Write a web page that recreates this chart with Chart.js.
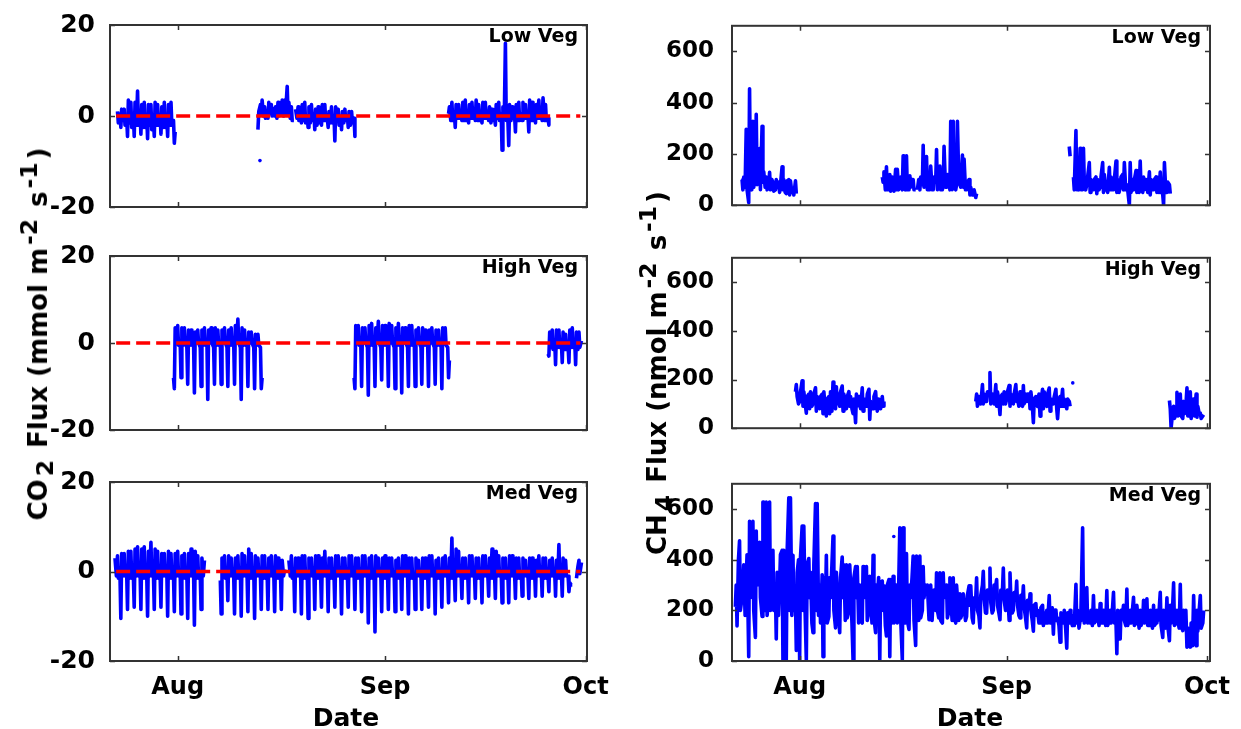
<!DOCTYPE html>
<html>
<head>
<meta charset="utf-8">
<script src="https://cdn.jsdelivr.net/npm/chart.js@4.4.1/dist/chart.umd.min.js"></script>
<style>
  body { margin: 0; background: #fff; width: 1241px; height: 729px; position: relative; overflow: hidden;
         font-family: "DejaVu Sans", sans-serif; font-weight: bold; color: #000; }
  canvas { position: absolute; }
  .title { position: absolute; white-space: nowrap; font-size: 25px; line-height: 1; }
  .ytitle { font-size: 26px; transform: translate(-50%, -50%) rotate(-90deg); }
  .xtitle { transform: translate(-50%, -50%); }
  .title sub, .title sup { font-size: 0.9em; line-height: 0; padding: 0 3px; }
</style>
</head>
<body>
<div class="title ytitle" style="left:38px; top:334px">CO<sub>2</sub> Flux (mmol m<sup>-2</sup> s<sup>-1</sup>)</div>
<div class="title ytitle" style="left:657px; top:373px">CH<sub>4</sub> Flux (nmol m<sup>-2</sup> s<sup>-1</sup>)</div>
<div class="title xtitle" style="left:346px; top:717px">Date</div>
<div class="title xtitle" style="left:970px; top:717px">Date</div>
<script>
// day 0 = 22 Jul; six readings per day at 00, 03, 09, 12, 15 and 20 h
const SLOT = [0, 0.125, 0.375, 0.5, 0.625, 0.833];
const monthDays = [10, 41, 71];
const monthNames = ['Aug', 'Sep', 'Oct'];
const co2Ticks = [-20, 0, 20];
const ch4Ticks = [0, 200, 400, 600];

// CO2 flux, low vegetation (mmol m-2 s-1)
const co2LowStart = [1, 22, 50];
const co2Low = [
  [1.0, -1.5, 0.5, -2.5, 1.5, -1.0,  1.5, -2.0, -0.5, -4.5, 3.5, -1.5,  3.0, -2.5, 0.5, -4.5, 3.0, -2.0,
   5.5, -2.0, 1.0, -4.0, 2.5, -2.5,  3.0, -2.5, 0.0, -5.0, 2.5, -2.0,  2.5, -3.0, -0.5, -4.5, 3.0, -2.0,
   2.5, -2.0, 0.0, -4.0, 2.0, -2.5,  3.0, -2.5, -0.5, -4.5, 2.5, -2.0,  3.0, -2.0, -1.0, -6.0, -3.5],
  [-3.0, 1.0, 2.5, 0.5, 3.5, 0.0,  2.0, -0.5, 1.0, -0.5, 3.0, 0.5,  2.5, 0.0, 1.5, 0.0, 2.0, -0.5,
   3.0, 0.0, 2.0, 0.5, 3.5, 0.0,  3.5, 0.5, 6.5, 0.5, 3.0, -0.5,  2.0, -1.0, -1.0, null, 1.5, -0.5,
   2.0, -1.0, 0.5, -1.5, 2.5, -1.0,  3.0, -1.5, 0.0, -2.5, 2.0, -1.5,  2.5, -1.0, 0.5, -3.0, 1.5, -2.0,
   2.0, -1.5, 0.0, -2.0, 2.5, -1.0,  2.5, -1.0, -0.5, -2.5, 1.0, -1.5,  2.0, -1.5, 0.0, -5.5, 2.0, -1.0,
   1.5, -2.0, -0.5, -3.0, 1.0, -1.5,  1.5, -1.0, 0.0, -2.5, 1.0, -2.0,  1.0, -1.5, -0.5, -4.5],
  [null, null, null, 0.5, 2.0, -1.0,  3.0, -1.0, 0.5, -2.5, 2.5, -0.5,  2.5, -0.5, 0.0, -1.0, 3.0, -1.0,
   3.5, -1.0, 0.0, -1.5, 2.5, -0.5,  3.0, -0.5, 0.5, -1.0, 3.5, -1.0,  2.5, -1.0, -0.5, -1.5, 3.0, -0.5,
   3.0, -0.5, 0.5, -1.0, 2.0, -1.5,  1.5, -1.0, 0.0, -2.0, 2.5, -0.5,  3.0, -1.0, 0.5, -7.5, 2.0, -0.5,
   16.0, -1.0, -1.0, -6.5, 2.5, -1.0,  2.0, -0.5, 0.0, -3.5, 2.5, -1.0,  3.0, -1.0, 0.5, -1.0, 3.0, -0.5,
   2.5, -0.5, 0.0, -3.5, 3.5, -1.0,  3.0, -1.0, 0.5, -1.5, 2.5, -0.5,  3.5, -0.5, 0.0, -1.0, 4.0, -1.0,
   2.5, -1.0, -0.5, -2.0]
];
const co2LowDots = [[22.3, -9.8]];

// CO2 flux, high vegetation
const co2HighStart = [9, 36, 65];
const co2High = [
  [null, null, -8.0, -10.5, 3.5, 0.0,  4.0, -0.5, 0.0, -8.0, 3.5, -0.5,  3.5, 0.0, -1.0, -9.5, 3.0, -0.5,
   3.0, -0.5, 0.0, -11.5, 2.5, 0.0,  3.0, 0.0, -1.0, -10.0, 3.0, -0.5,  3.5, -0.5, 0.0, -13.0, 3.0, 0.0,
   3.5, 0.0, -1.0, -9.5, 3.5, -0.5,  3.0, -0.5, 0.0, -9.5, 3.0, 0.0,  3.5, 0.0, -1.0, -10.0, 3.0, -0.5,
   3.5, -0.5, 0.0, -9.5, 4.0, 0.0,  5.5, 0.0, -1.0, -13.0, 3.5, -0.5,  3.0, -0.5, 0.0, -10.0, 2.5, 0.0,
   2.5, 0.0, -1.0, -10.5, 2.0, -0.5,  2.0, -0.5, -1.0, -10.5, -8.0],
  [null, null, -8.0, -10.5, 4.0, 0.0,  4.0, -0.5, 0.0, -10.0, 3.5, 0.0,  3.5, 0.0, -1.0, -12.0, 4.0, -0.5,
   4.5, -0.5, 0.0, -10.0, 3.5, 0.0,  5.0, 0.0, -1.0, -8.5, 4.0, -0.5,  4.0, -0.5, 0.0, -10.0, 4.5, 0.0,
   4.0, 0.0, -1.0, -10.5, 3.5, -0.5,  4.5, -0.5, 0.0, -11.5, 3.5, 0.0,  3.5, 0.0, -1.0, -10.0, 4.0, -0.5,
   4.0, -0.5, 0.0, -10.0, 3.0, 0.0,  3.5, 0.0, -1.0, -9.5, 3.5, -0.5,  3.0, -0.5, 0.0, -10.0, 3.0, 0.0,
   3.5, 0.0, -1.0, -9.5, 3.0, -0.5,  3.0, -0.5, 0.0, -10.5, 3.5, 0.0,  3.5, -0.5, -1.0, -8.0, -4.0],
  [null, null, -2.5, -3.0, 2.5, -1.0,  3.0, -1.5, 0.5, -5.0, 3.0, -1.0,  3.0, -1.0, 0.0, -4.5, 2.5, -1.5,
   2.0, -1.5, -1.0, -4.5, 3.0, -1.0,  3.5, -1.0, 0.0, -5.0, 2.5, -1.5,  2.5, -1.0, 0.5]
];

// CO2 flux, medium vegetation
const co2MedStart = [0, 16, 26];
const co2Med = [
  [null, null, null, null, 3.0, -1.0,  3.5, -1.5, -1.0, -10.5, 4.0, -1.0,  4.0, -1.0, -0.5, -8.5, 4.5, -1.5,
   4.5, -1.5, -1.0, -8.0, 5.0, -1.0,  5.5, -1.0, 0.0, -8.5, 5.0, -1.5,  5.5, -1.5, -1.0, -10.0, 4.5, -1.0,
   6.5, -1.0, -0.5, -8.5, 5.0, -1.5,  4.5, -1.5, -1.0, -8.0, 4.0, -1.0,  4.0, -1.0, 0.0, -10.0, 4.5, -1.5,
   4.0, -1.5, -1.0, -9.0, 4.0, -1.0,  4.5, -1.0, -0.5, -9.5, 3.5, -1.5,  4.0, -1.5, -1.0, -10.5, 4.0, -1.0,
   5.0, -1.0, 0.0, -12.0, 4.5, -1.5,  3.5, -1.5, -1.0, -8.5, 3.0, -1.0,  2.5],
  [null, null, -2.0, -9.5, 3.0, -1.0,  3.5, -1.5, -0.5, -6.5, 3.5, -1.0,  3.0, -1.0, -1.0, -9.5, 3.0, -1.5,
   3.5, -1.5, 0.0, -10.0, 4.0, -1.0,  3.5, -1.0, -1.0, -9.0, 5.0, -1.5,  4.0, -1.5, 0.0, -10.5, 3.5, -1.0,
   3.0, -1.0, -1.0, -8.5, 3.5, -1.5,  3.5, -1.5, -0.5, -8.5, 3.0, -1.0,  3.5, -1.0, -1.0, -9.0, 3.5, -1.5,
   3.0, -1.5, -0.5, -8.5, 2.5, -1.0,  0.5],
  [null, null, null, null, 2.5, -1.0,  3.5, -1.5, -1.0, -9.0, 3.0, -1.0,  3.0, -1.0, -0.5, -9.5, 3.5, -1.5,
   3.5, -1.5, -1.0, -10.5, 3.0, -1.0,  3.0, -1.0, -0.5, -8.5, 3.5, -1.5,  3.5, -1.5, -1.0, -8.0, 3.0, -1.0,
   4.5, -1.0, -0.5, -9.0, 3.0, -1.5,  3.0, -1.5, -1.0, -8.0, 3.5, -1.0,  3.5, -1.0, -0.5, -9.5, 3.0, -1.5,
   3.0, -1.5, -1.0, -8.0, 3.5, -1.0,  3.5, -1.0, -0.5, -8.5, 3.0, -1.5,  3.0, -1.5, -1.0, -9.0, 3.5, -1.0,
   3.5, -1.0, -0.5, -11.5, 3.0, -1.5,  3.5, -1.5, -1.5, -13.5, 3.5, -1.0,  3.0, -1.0, -1.0, -9.0, 3.0, -1.5,
   3.5, -1.5, -0.5, -8.5, 3.0, -1.0,  3.0, -1.0, -1.0, -9.0, 2.5, -1.5,  3.0, -1.5, -0.5, -8.5, 3.5, -1.0,
   3.5, -1.0, -1.0, -9.5, 3.0, -1.5,  3.0, -1.5, -0.5, -8.5, 3.0, -1.0,  2.5, -1.0, -1.0, -8.5, 3.0, -1.5,
   3.0, -1.5, -0.5, -8.0, 3.5, -1.0,  3.5, -1.0, -1.0, -9.5, 2.5, -1.5,  3.0, -1.5, -0.5, -8.0, 3.0, -1.0,
   3.5, -1.0, -0.5, -7.0, 3.0, -1.5,  7.5, -1.5, -1.0, -6.5, 5.0, -1.0,  4.5, -1.0, -0.5, -6.0, 3.0, -1.5,
   3.0, -1.5, -1.0, -7.0, 3.5, -1.0,  3.5, -1.0, -0.5, -6.0, 3.0, -1.5,  3.0, -1.5, -0.5, -7.0, 3.5, -1.0,
   3.5, -1.0, -1.0, -5.5, 3.0, -1.5,  5.0, -1.5, -0.5, -6.0, 4.5, -1.0,  3.5, -1.0, -0.5, -7.0, 3.0, -1.5,
   3.0, -1.5, -1.0, -7.0, 3.5, -1.0,  3.5, -1.0, -0.5, -6.0, 3.0, -1.5,  3.0, -1.5, -0.5, -5.5, 3.0, -1.0,
   2.5, -1.0, -1.0, -6.0, 3.0, -1.5,  3.0, -1.5, -0.5, -5.5, 2.5, -1.0,  3.5, -1.0, -0.5, -5.5, 3.0, -1.5,
   3.0, -1.5, -1.0, -4.5, 2.5, -1.0,  3.0, -1.0, -0.5, -5.5, 2.5, -1.5,  6.0, -1.5, -0.5, -5.5, 3.0, -1.0,
   2.5, -1.0, -1.0, -4.5, -2.5, -3.0,  -3.0, null, null, null, -1.5, 1.0,  2.5, -0.5, 2.0]
];

// CH4 flux, low vegetation (nmol m-2 s-1)
const ch4LowStart = [1, 22, 50];
const ch4Low = [
  [null, null, 100, 60, 110, 70,  296, 60, 10, 454, 100, 60,  327, 70, 120, 355, 80, 110,
   221, 60, 308, 90, 130, 70,  110, 60, 70, 128, 60, 100,  90, 55, 60, 100, 70, 90,
   50, 80, 150, 60, 100, 50,  45, 95, 100, 40, 95, 50,  60, 40, 95, 45],
  [null, null, 110, 90, 130, 60,  150, 60, 60, 120, 55, 110,  100, 55, 140, 60, 140, 60,
   90, 110, 60, 193, 120, 60,  193, 60, 60, 115, 70, 100,  100, 60, 60, null, 60, 100,
   60, 110, 80, 234, 70, 120,  190, 60, 60, 80, 153, 60,  60, 110, 90, 217, 60, 100,
   153, 60, 60, 80, 230, 70,  70, 120, 100, 60, 327, 60,  327, 70, 60, 80, 327, 90,
   80, 70, 196, 70, 180, 60,  60, 90, 100, 40, 70, 40,  40, 60, 30, 45],
  [null, null, 229, 191, null, null,  110, 60, 291, 60, 100, 60,  222, 60, 60, 222, 90, 60,
   80, 110, 166, 50, 100, 60,  60, 100, 110, 45, 100, 60,  70, 110, 166, 50, 120, 60,
   90, 50, 148, 60, 110, 60,  60, 100, 172, 50, 100, 50,  70, 110, 120, 60, 166, 60,
   80, 60, 0, 166, 50, 100,  60, 100, 135, 50, 100, 50,  172, 60, 50, 110, 60, 100,
   90, 50, 130, 40, 100, 60,  60, 100, 110, 50, 90, 50,  129, 60, 40, 0, 166, 50,
   50, 90, 80, 45]
];

// CH4 flux, high vegetation
const ch4HighStart = [9, 36, 65];
const ch4High = [
  [null, null, 150, 179, 130, 100,  110, 150, 195, 90, 150, 100,  62, 130, 140, 80, 150, 90,
   100, 140, 166, 70, 130, 90,  80, 130, 140, 60, 150, 80,  50, 120, 130, 60, 150, 70,
   190, 90, 80, 170, 100, 140,  90, 150, 173, 70, 140, 90,  80, 130, 150, 90, 130, 80,
   60, 120, 23, 140, 90, 130,  130, 80, 166, 70, 120, 90,  90, 140, 160, 36, 110, 80,
   80, 130, 150, 100, 70, 120,  100, 80, 130, 90, 110],
  [null, null, 110, 140, 90, 130,  120, 100, 179, 100, 140, 110,  110, 150, 150, 229, 100, 140,
   130, 100, 179, 90, 150, 110,  56, 130, 140, 100, 150, 100,  120, 150, 175, 90, 140, 110,
   100, 140, 179, 110, 120, 90,  150, 100, 90, 175, 100, 140,  110, 140, 140, 80, 150, 100,
   23, 120, 130, 100, 90, 140,  49, 110, 160, 80, 150, 100,  90, 140, 165, 70, 120, 100,
   100, 130, 160, 80, 39, 120,  130, 90, 160, 90, 120, 100,  80, 120, 110, 90],
  [null, null, 114, 80, 0, 60,  90, 40, 60, 147, 50, 100,  140, 50, 40, 110, 60, 90,
   166, 50, 50, 150, 40, 100,  120, 50, 140, 45, 90, 60,  62, 40, 50, 55]
];
const ch4HighDots = [[50.9, 186]];

// CH4 flux, medium vegetation
const ch4MedStart = [0];
const ch4Med = [
  [null, null, 214, 300, 138, 400,  475, 200, 250, 300, 380, 180,  330, 420, 17, 552, 250, 400,
   552, 200, 93, 513, 300, 420,  469, 250, 176, 628, 628, 200,  628, 180, 250, 628, 200, 430,
   437, 200, 271, 87, 350, 180,  300, 420, 437, 4, 437, 200,  4, 430, 645, 200, 645, 180,
   418, 200, 250, 42, 350, 400,  4, 410, 533, 200, 533, 180,  4, 380, 405, 250, 350, 150,
   112, 380, 622, 200, 622, 180,  300, 150, 341, 17, 330, 170,  418, 150, 176, 330, 250, 380,
   494, 200, 131, 350, 280, 170,  112, 330, 411, 250, 380, 160,  380, 170, 200, 380, 300, 150,
   4, 330, 373, 250, 373, 150,  300, 160, 150, 373, 250, 330,  373, 160, 201, 335, 250, 150,
   418, 170, 112, 300, 250, 330,  4, 300, 316, 200, 297, 140,  99, 300, 322, 17, 322, 150,
   335, 150, 200, 300, 150, 300,  526, 170, 4, 526, 250, 150,  424, 160, 125, 300, 250, 330,
   415, 160, 61, 415, 300, 160,  415, 170, 200, 373, 250, 300,  271, 300, 163, 252, 300, 160,
   250, 280, 200, 348, 200, 170,  348, 160, 150, 348, 250, 280,  300, 170, 200, 329, 250, 160,
   329, 170, 150, 300, 250, 160,  265, 170, 189, 265, 230, 160,  176, 260, 297, 220, 297, 170,
   150, 250, 250, 329, 200, 180,  131, 260, 300, 354, 250, 190,  189, 280, 260, 367, 230, 190,
   200, 300, 300, 322, 220, 190,  163, 280, 280, 367, 240, 200,  230, 280, 160, 348, 250, 190,
   200, 270, 250, 316, 220, 180,  170, 260, 240, 297, 210, 170,  131, 240, 220, 265, 200, 160,
   118, 220, 227, 180, 200, 150,  150, 210, 220, 140, 190, 150,  200, 150, 259, 150, 180, 210,
   106, 200, 201, 160, 170, 140,  74, 190, 180, 150, 200, 130,  51, 190, 150, 200, 170, 140,
   180, 140, 303, 150, 200, 130,  160, 200, 526, 200, 150, 210,  290, 150, 180, 150, 200, 140,
   259, 150, 160, 200, 180, 140,  227, 150, 150, 200, 190, 140,  278, 140, 160, 200, 150, 200,
   271, 150, 150, 29, 200, 140,  87, 200, 190, 220, 160, 140,  284, 140, 170, 200, 150, 200,
   252, 140, 150, 220, 180, 130,  200, 140, 160, 240, 150, 200,  246, 140, 140, 200, 190, 130,
   220, 140, 150, 200, 160, 200,  271, 140, 93, 200, 170, 130,  250, 140, 80, 220, 150, 200,
   309, 140, 150, 200, 160, 130,  303, 140, 120, 200, 150, 200,  55, 130, 120, 55, 150, 60,
   259, 120, 60, 200, 118, 200,  259, 130, 150, 200]
];
const ch4MedDots = [[24.1, 492]];

function toPoints(starts, segs) {
  const n = SLOT.length;
  const pts = [];
  starts.forEach((day, s) => {
    let x = day;
    segs[s].forEach((v, i) => {
      x = day + Math.floor(i / n) + SLOT[i % n];
      pts.push({x: x, y: v});
    });
    pts.push({x: x + 0.05, y: null});
  });
  return pts;
}

// inward tick marks, axes box and the site label
const framePlugin = {
  id: 'frame',
  afterDraw(chart, args, opts) {
    const {ctx, chartArea: a, scales: {x, y}} = chart;
    ctx.save();
    ctx.strokeStyle = '#333';
    ctx.lineWidth = 1.5;
    ctx.beginPath();
    x.ticks.forEach(t => {
      const px = Math.round(x.getPixelForValue(t.value)) + 0.5;
      ctx.moveTo(px, a.bottom); ctx.lineTo(px, a.bottom - 5);
      ctx.moveTo(px, a.top); ctx.lineTo(px, a.top + 5);
    });
    y.ticks.forEach(t => {
      const py = Math.round(y.getPixelForValue(t.value)) + 0.5;
      ctx.moveTo(a.left, py); ctx.lineTo(a.left + 5, py);
      ctx.moveTo(a.right, py); ctx.lineTo(a.right - 5, py);
    });
    ctx.stroke();
    ctx.lineWidth = 2;
    ctx.strokeRect(a.left, a.top, a.width, a.height);
    ctx.font = 'bold 19px "DejaVu Sans"';
    ctx.fillStyle = '#000';
    ctx.textAlign = 'right';
    ctx.textBaseline = 'top';
    ctx.fillText(opts.tag, a.right - 9, a.top + 3);
    ctx.restore();
  }
};

const PAD_L = 80, PAD_T = 20, PAD_R = 30;

const panels = [
  {box: [110, 23, 477, 186], starts: co2LowStart, segs: co2Low, dots: co2LowDots, tag: 'Low Veg', co2: true, xr: [-0.12, 71.2]},
  {box: [110, 254, 477, 178], starts: co2HighStart, segs: co2High, dots: [], tag: 'High Veg', co2: true, xr: [-0.12, 71.2]},
  {box: [110, 480, 477, 181], starts: co2MedStart, segs: co2Med, dots: [], tag: 'Med Veg', co2: true, xr: [-0.12, 71.2], bottom: true},
  {box: [732, 22, 478, 187], starts: ch4LowStart, segs: ch4Low, dots: [], tag: 'Low Veg', co2: false, xr: [-0.13, 71.45]},
  {box: [732, 254, 478, 178], starts: ch4HighStart, segs: ch4High, dots: ch4HighDots, tag: 'High Veg', co2: false, xr: [-0.13, 71.45]},
  {box: [732, 480, 478, 181], starts: ch4MedStart, segs: ch4Med, dots: ch4MedDots, tag: 'Med Veg', co2: false, xr: [-0.13, 71.45], bottom: true}
];

panels.forEach(p => {
  const [L, T, W, H] = p.box;
  const padB = p.bottom ? 50 : 20;
  const cv = document.createElement('canvas');
  cv.width = PAD_L + W + PAD_R;
  cv.height = PAD_T + H + padB;
  cv.style.left = (L - PAD_L) + 'px';
  cv.style.top = (T - PAD_T) + 'px';
  document.body.insertBefore(cv, document.body.firstChild);

  const datasets = [{
    data: toPoints(p.starts, p.segs),
    borderColor: '#0000ff', borderWidth: 3.6, borderJoinStyle: 'round',
    pointRadius: 0, tension: 0, order: 2
  }, {
    data: p.dots.map(d => ({x: d[0], y: d[1]})),
    showLine: false, pointRadius: 1.8, pointBorderWidth: 0,
    pointBackgroundColor: '#0000ff', order: 1
  }];
  if (p.co2) {
    datasets.push({
      data: [{x: 0.8, y: 0}, {x: 70.2, y: 0}],
      borderColor: '#ff0000', borderWidth: 3.5, borderDash: [14, 6],
      borderCapStyle: 'butt', pointRadius: 0, order: 0
    });
  }
  const yTicks = p.co2 ? co2Ticks : ch4Ticks;

  new Chart(cv, {
    type: 'line',
    data: {datasets: datasets},
    options: {
      responsive: false,
      animation: false,
      devicePixelRatio: 1,
      events: [],
      layout: {padding: {top: PAD_T, right: PAD_R, left: 0, bottom: 0}},
      plugins: {legend: {display: false}, tooltip: {enabled: false}, frame: {tag: p.tag}},
      scales: {
        x: {
          type: 'linear', min: p.xr[0], max: p.xr[1],
          afterBuildTicks: s => { s.ticks = monthDays.map(v => ({value: v})); },
          afterFit: s => { s.height = padB; },
          grid: {display: false}, border: {display: false},
          ticks: {
            display: !!p.bottom, autoSkip: false, maxRotation: 0, padding: 4, color: '#000',
            font: {family: 'DejaVu Sans', weight: 'bold', size: 24},
            callback: v => monthNames[monthDays.indexOf(v)]
          }
        },
        y: {
          min: p.co2 ? -20 : 0, max: p.co2 ? 20 : 700,
          afterBuildTicks: s => { s.ticks = yTicks.map(v => ({value: v})); },
          afterFit: s => { s.width = PAD_L; },
          grid: {display: false}, border: {display: false},
          ticks: {
            padding: p.co2 ? 7 : 10, color: '#000',
            font: {family: 'DejaVu Sans', weight: 'bold', size: p.co2 ? 25 : 23},
            callback: v => String(v)
          }
        }
      }
    },
    plugins: [framePlugin]
  });
});
</script>
</body>
</html>
